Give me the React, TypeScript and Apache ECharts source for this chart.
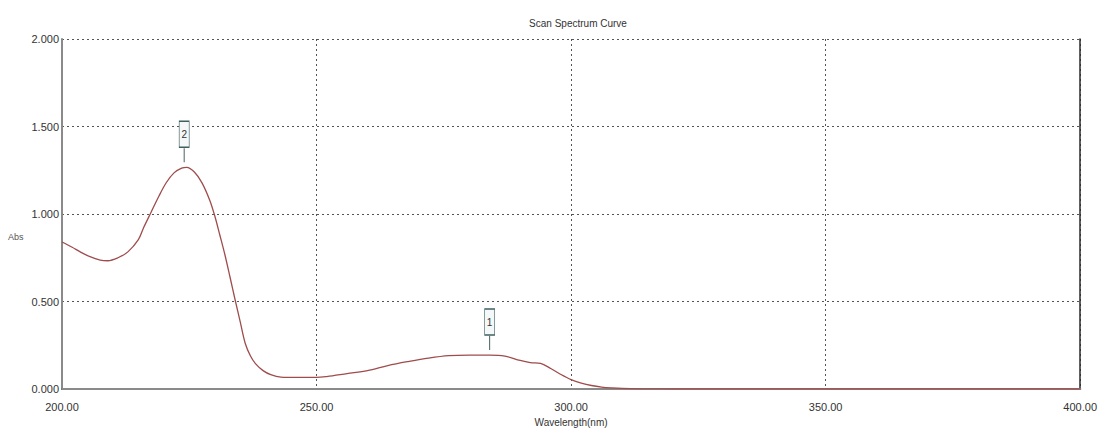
import React, { useEffect, useRef } from "react";
import * as echarts from "echarts";

const wavelengths = [
  200, 202, 203.5, 205.5, 207.5, 209, 211, 213, 215, 216, 217.5, 219, 220.5, 222, 223.5, 224.5,
  226, 227.5, 229, 230, 231, 232, 233, 234, 235, 236, 237, 238, 239.5, 241, 243, 246, 250, 252,
  256, 260, 264, 268, 272, 276, 280, 284, 287, 290, 292, 294, 296, 298, 300, 302, 304, 306, 308,
  310, 315, 320, 340, 360, 380, 400,
];
const absorbance = [
  0.84, 0.81, 0.785, 0.756, 0.737, 0.733, 0.75, 0.785, 0.853, 0.92, 1.01, 1.1, 1.18, 1.235, 1.262,
  1.267, 1.24, 1.178, 1.08, 0.99, 0.88, 0.767, 0.64, 0.51, 0.385, 0.26, 0.19, 0.145, 0.105, 0.082,
  0.068, 0.066, 0.066, 0.071, 0.088, 0.105, 0.134, 0.157, 0.177, 0.191, 0.194, 0.194, 0.188, 0.163,
  0.151, 0.146, 0.117, 0.083, 0.054, 0.034, 0.02, 0.011, 0.006, 0.003, 0.001, 0.0, 0.0, 0.0, 0.0,
  0.0,
];
const peakLabels = ["1", "2"];
const peakWavelengths = [284, 224];
const peakValues = [0.194, 1.267];

const titleText = "Scan Spectrum Curve";
const xName = "Wavelength(nm)";
const yName = "Abs";

const FONT = "'Liberation Sans Narrow', 'Liberation Sans', Arial, sans-serif";

export default function App() {
  const ref = useRef<HTMLDivElement>(null);
  useEffect(() => {
    if (!ref.current) return;
    const chart = echarts.init(ref.current, null, { renderer: "svg" });
    const data = wavelengths.map((w, i) => [w, absorbance[i]]);
    const markData: any[] = [];
    peakLabels.forEach((lab, i) => {
      markData.push({
        coord: [peakWavelengths[i], peakValues[i]],
        symbol: "rect",
        symbolSize: [1, 14],
        symbolOffset: [0, -12],
        itemStyle: { color: "#4a6060" },
        label: { show: false },
      });
      markData.push({
        coord: [peakWavelengths[i], peakValues[i]],
        symbol: "rect",
        symbolSize: [10, 26],
        symbolOffset: [0, -33],
        itemStyle: { color: "#f4f8f8", borderColor: "#3f5f5f", borderWidth: 1 },
        label: {
          show: true,
          formatter: lab,
          position: "inside",
          color: "#333",
          fontSize: 10,
          fontFamily: FONT,
        },
      });
    });
    chart.setOption({
      animation: false,
      backgroundColor: "#fff",
      title: {
        text: titleText,
        left: 573,
        top: 13,
        textAlign: "center",
        textStyle: { fontSize: 10, fontWeight: "normal", color: "#333", fontFamily: FONT },
      },
      grid: { left: 62, right: 10, top: 39, bottom: 42, show: false },
      xAxis: [
        {
          type: "value",
          min: 200,
          max: 400,
          interval: 50,
          position: "bottom",
          name: xName,
          nameLocation: "middle",
          nameGap: 28,
          nameTextStyle: { fontSize: 10, color: "#333", fontFamily: FONT },
          axisLine: { show: true, onZero: false, lineStyle: { color: "#2a2a2a", width: 2 } },
          axisTick: { show: false },
          axisLabel: {
            fontSize: 11,
            color: "#333",
            fontFamily: FONT,
            margin: 12,
            formatter: (v: number) => v.toFixed(2),
          },
          splitLine: { show: true, lineStyle: { color: "#555", type: [2, 3], width: 1 } },
        },
        {
          type: "value",
          min: 200,
          max: 400,
          interval: 50,
          position: "top",
          axisLine: { show: true, lineStyle: { color: "#8a8a8a", width: 2 } },
          axisTick: { show: false },
          axisLabel: { show: false },
          splitLine: { show: false },
        },
      ],
      yAxis: [
        {
          type: "value",
          min: 0,
          max: 2,
          interval: 0.5,
          position: "left",
          axisLine: { show: true, onZero: false, lineStyle: { color: "#8a8a8a", width: 2 } },
          axisTick: { show: false },
          axisLabel: {
            fontSize: 11,
            color: "#333",
            fontFamily: FONT,
            margin: 3,
            formatter: (v: number) => v.toFixed(3),
          },
          splitLine: { show: true, lineStyle: { color: "#555", type: [2, 3], width: 1 } },
        },
        {
          type: "value",
          min: 0,
          max: 2,
          interval: 0.5,
          position: "right",
          axisLine: { show: true, lineStyle: { color: "#2a2a2a", width: 1.5 } },
          axisTick: { show: false },
          axisLabel: { show: false },
          splitLine: { show: false },
        },
      ],
      graphic: [
        {
          type: "text",
          left: 8,
          top: 232,
          style: { text: yName, fontSize: 9, fill: "#555", fontFamily: FONT },
        },
      ],
      series: [
        {
          type: "line",
          data,
          xAxisIndex: 0,
          yAxisIndex: 0,
          smooth: 0.35,
          showSymbol: false,
          lineStyle: { color: "#9e4c4c", width: 1.3 },
          z: 3,
          markPoint: { data: markData, silent: true },
        },
      ],
    });
    return () => chart.dispose();
  }, []);
  return (
    <div
      ref={ref}
      style={{ position: "fixed", left: 0, top: 0, width: 1100, height: 432, background: "#fff" }}
    />
  );
}
